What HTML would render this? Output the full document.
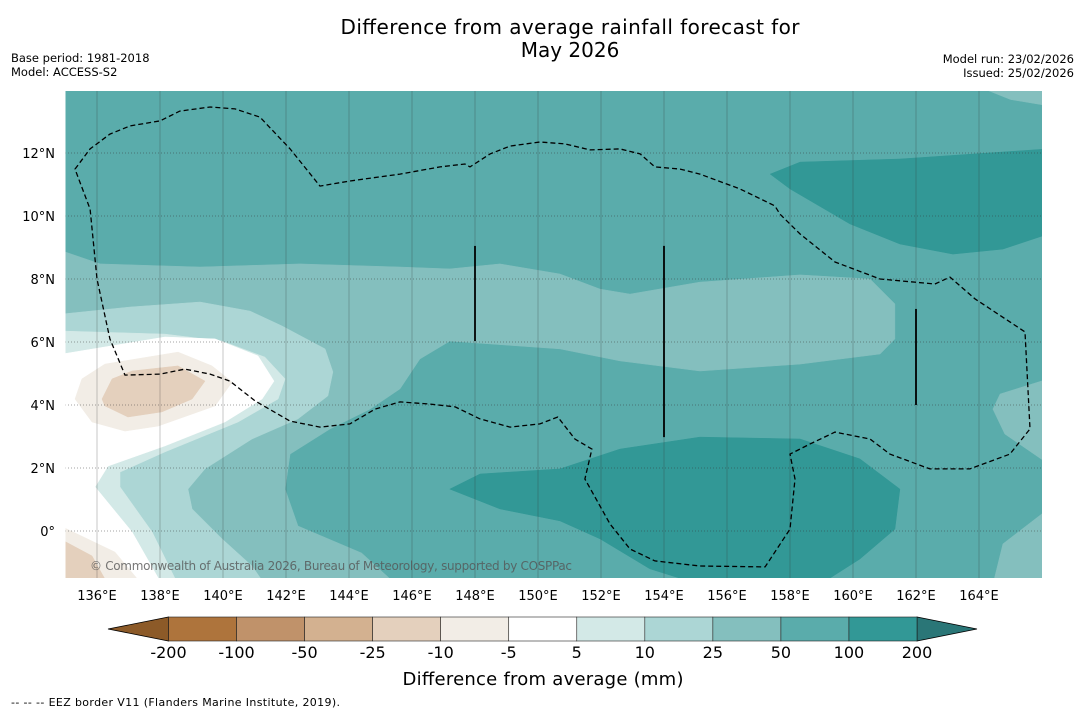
<!DOCTYPE html>
<html><head><meta charset="utf-8"><style>
body{margin:0;background:#fff;font-family:"Liberation Sans","DejaVu Sans",sans-serif;}
svg text{font-family:"DejaVu Sans","Liberation Sans",sans-serif;}
</style></head><body>
<svg id="c" width="1085" height="713" xmlns="http://www.w3.org/2000/svg">
<defs><clipPath id="mc"><rect x="65.5" y="91" width="976.5" height="487"/></clipPath></defs>
<text x="570" y="34" text-anchor="middle" font-size="20" textLength="459">Difference from average rainfall forecast for</text>
<text x="570" y="57" text-anchor="middle" font-size="20">May 2026</text>
<text x="11" y="62" font-size="11.5">Base period: 1981-2018</text>
<text x="11" y="76" font-size="11.5">Model: ACCESS-S2</text>
<text x="1074" y="63" font-size="11.5" text-anchor="end">Model run: 23/02/2026</text>
<text x="1074" y="77" font-size="11.5" text-anchor="end">Issued: 25/02/2026</text>
<g id="map" clip-path="url(#mc)"></g>
<g id="axes"></g>
<g id="cbar"></g>
<text x="543" y="685" text-anchor="middle" font-size="18" textLength="281">Difference from average (mm)</text>
<text x="11" y="706" font-size="11" textLength="329">--  --  -- EEZ border V11 (Flanders Marine Institute, 2019).</text>
</svg>
<script>
const lonTicks=[136,138,140,142,144,146,148,150,152,154,156,158,160,162,164];
const latTicks=[0,2,4,6,8,10,12];
const cbLevels=["-200","-100","-50","-25","-10","-5","5","10","25","50","100","200"];
const cbColors=["#ae743c","#c0926a","#d3b190","#e4d0bd","#f2ede6","#ffffff","#d3e9e7","#acd6d5","#84bfbe","#5aacab","#329896"];
const bandMid=[[134.9,8.89],[136.1,8.48],[139.27,8.38],[142.44,8.48],[145.62,8.38],[147.2,8.32],[148.79,8.48],[150.7,8.16],[151.97,7.68],[152.92,7.52],[155.14,7.9],[158.32,8.13],[160.54,8.0],[161.33,7.21],[161.33,6.1],[160.86,5.62],[158.32,5.3],[155.14,5.08],[152.6,5.4],[150.7,5.78],[147.2,6.03],[146.25,5.46],[145.62,4.51],[144.67,3.87],[143.4,3.24],[142.13,2.44],[141.97,1.33],[142.38,0.16],[144.4,-0.7],[145.5,-1.7],[134.9,-1.7]];
const darkTop=[[157.37,11.33],[158.32,11.71],[161.49,11.81],[166.2,12.13],[166.2,9.43],[164.76,8.95],[163.17,8.79],[161.49,9.11],[159.9,9.75],[158.0,10.86]];
const darkBottom=[[147.2,1.33],[148.16,1.81],[150.7,1.97],[152.6,2.6],[155.14,2.98],[158.32,2.92],[160.22,2.29],[161.49,1.33],[161.33,0.06],[160.22,-0.89],[158.95,-1.7],[155.14,-1.7],[153.55,-1.2],[151.97,-0.25],[150.7,0.32],[148.79,0.7]];
const rightMid=[[166.2,4.83],[164.67,4.35],[164.44,3.87],[164.82,3.08],[166.2,2.13]];
const rightBottom=[[166.2,0.7],[164.76,-0.41],[164.44,-1.7],[166.2,-1.7]];
const rightTop=[[164.0,14.1],[165.0,13.7],[166.2,13.5],[166.2,14.1]];
const band10=[[134.9,6.89],[137.05,7.11],[139.27,7.27],[140.86,6.98],[141.87,6.51],[143.24,5.78],[143.49,5.05],[143.33,4.29],[142.38,3.56],[140.92,2.92],[139.43,1.97],[138.89,1.33],[139.02,0.7],[139.97,-0.25],[140.92,-1.11],[141.33,-1.7],[134.9,-1.7]];
const band5=[[134.9,6.35],[138.16,6.25],[139.97,6.03],[141.33,5.52],[141.97,4.83],[141.75,4.19],[140.48,3.46],[138.16,2.51],[136.73,1.87],[136.73,1.4],[137.75,-0.03],[138.57,-1.7],[134.9,-1.7]];
const whiteA=[[134.9,5.62],[138.16,6.16],[139.75,6.1],[141.11,5.56],[141.62,4.76],[141.24,4.19],[140.06,3.46],[138.16,2.7],[136.35,2.06],[135.94,1.4],[137.11,-0.03],[138.06,-1.7],[134.9,-1.7]];
const dry10A=[[135.3,4.19],[135.52,4.83],[136.25,5.3],[138.57,5.68],[139.65,5.24],[140.29,4.73],[139.75,3.97],[137.94,3.33],[136.89,3.17],[135.84,3.46]];
const dry10B=[[134.9,0.13],[136.57,-0.67],[137.43,-1.7],[134.9,-1.7]];
const dry25A=[[136.16,4.19],[136.48,4.83],[137.11,5.08],[138.57,5.24],[139.43,4.76],[139.02,4.19],[138.06,3.78],[136.98,3.62],[136.25,3.97]];
const dry25B=[[134.9,-0.29],[135.84,-0.79],[136.35,-1.7],[134.9,-1.7]];
const eez=[[135.3,11.49],[135.78,12.13],[136.41,12.6],[137.05,12.86],[138.0,13.02],[138.63,13.33],[139.59,13.46],[140.38,13.4],[141.17,13.14],[142.13,12.13],[143.08,10.95],[144.03,11.11],[145.62,11.33],[146.89,11.56],[147.68,11.65],[147.84,11.56],[148.48,11.97],[149.11,12.22],[150.06,12.35],[150.86,12.29],[151.65,12.1],[152.6,12.13],[153.24,11.97],[153.71,11.56],[154.51,11.49],[155.14,11.33],[156.41,10.86],[157.52,10.32],[157.68,10.06],[158.32,9.43],[159.43,8.54],[160.86,8.0],[162.6,7.84],[163.08,8.06],[163.87,7.37],[165.46,6.32],[165.62,3.24],[164.98,2.44],[163.71,1.97],[162.44,1.97],[161.17,2.44],[160.54,2.92],[159.43,3.14],[158.63,2.76],[158.0,2.44],[158.16,1.65],[158.0,0.06],[157.21,-1.14],[155.14,-1.11],[153.71,-0.95],[152.92,-0.57],[152.29,0.22],[151.49,1.65],[151.71,2.6],[151.17,2.92],[150.63,3.62],[150.06,3.4],[149.11,3.3],[148.16,3.56],[147.37,3.94],[146.57,4.03],[145.62,4.1],[144.83,3.87],[144.03,3.4],[143.08,3.3],[142.13,3.49],[141.02,4.13],[140.22,4.76],[139.59,4.98],[138.79,5.14],[138.0,4.98],[136.89,4.95],[136.41,6.1],[136.0,8.0],[135.78,10.22]];
const segLines=[[148,9.05,6.03],[154,9.05,2.98],[162,7.05,4.0]];

const NS="http://www.w3.org/2000/svg";
const X=lon=>65.5+(lon-135)*31.5;
const Y=lat=>531-lat*31.5;
function mk(tag,attrs,parent){const e=document.createElementNS(NS,tag);for(const k in attrs)e.setAttribute(k,attrs[k]);parent.appendChild(e);return e;}
const map=document.getElementById('map');
const pts=a=>a.map(p=>X(p[0]).toFixed(1)+','+Y(p[1]).toFixed(1)).join(' ');
const bg=mk('rect',{x:60,y:85,width:990,height:500,fill:'#5aacab'},map);


const layers=[[bandMid,'#84bfbe','contour-25-50'],[rightTop,'#84bfbe','contour-25-50-ne'],[rightMid,'#84bfbe','contour-25-50-east'],[rightBottom,'#84bfbe','contour-25-50-se'],[darkTop,'#329896','contour-100-200-north'],[darkBottom,'#329896','contour-100-200-south'],[band10,'#acd6d5','contour-10-25'],[band5,'#d3e9e7','contour-5-10'],[whiteA,'#ffffff','contour-neutral'],[dry10A,'#f2ede6','contour-dry-5-10'],[dry10B,'#f2ede6','contour-dry-5-10-sw'],[dry25A,'#e4d0bd','contour-dry-10-25'],[dry25B,'#e4d0bd','contour-dry-10-25-sw']];
layers.forEach(l=>{const p=mk('polygon',{points:pts(l[0]),fill:l[1],stroke:l[1],'stroke-width':0.5},map);

});
lonTicks.forEach(t=>{const g=mk('line',{x1:X(t),x2:X(t),y1:91,y2:578,stroke:'#333','stroke-width':0.5,'stroke-opacity':0.55},map);

});
latTicks.forEach(t=>{const g=mk('line',{x1:65,x2:1042,y1:Y(t),y2:Y(t),stroke:'#333','stroke-width':0.7,'stroke-dasharray':'1,2','stroke-opacity':0.6},map);

});
const ez=mk('polygon',{points:pts(eez),fill:'none',stroke:'#000','stroke-width':1.3,'stroke-dasharray':'5,3'},map);


segLines.forEach(s=>{const l=mk('line',{x1:X(s[0]),x2:X(s[0]),y1:Y(s[1]),y2:Y(s[2]),stroke:'#000','stroke-width':1.8},map);

});
const cp=mk('text',{x:90,y:570,'font-size':12,fill:'#555','fill-opacity':0.8,textLength:482},map);cp.textContent='© Commonwealth of Australia 2026, Bureau of Meteorology, supported by COSPPac';


const axes=document.getElementById('axes');
lonTicks.forEach(t=>{const e=mk('text',{x:X(t),y:600,'font-size':13,'text-anchor':'middle'},axes);e.textContent=t+'°E';

});
latTicks.forEach(t=>{const e=mk('text',{x:55,y:Y(t)+5,'font-size':13,'text-anchor':'end'},axes);e.textContent=t===0?'0°':t+'°N';

});
const cb=document.getElementById('cbar');
const x0=168.5,bw=(917-168.5)/cbColors.length,cy=617,ch=24;
const lt=mk('polygon',{points:`108,${cy+ch/2} ${x0},${cy} ${x0},${cy+ch}`,fill:'#8c5a28',stroke:'#000','stroke-width':0.8},cb);


const rt=mk('polygon',{points:`977,${cy+ch/2} 917,${cy} 917,${cy+ch}`,fill:'#2a7677',stroke:'#000','stroke-width':0.8},cb);


cbColors.forEach((c,i)=>{const r=mk('rect',{x:x0+i*bw,y:cy,width:bw,height:ch,fill:c,stroke:'#222','stroke-width':0.6},cb);

});
cbLevels.forEach((v,i)=>{const e=mk('text',{x:x0+i*bw,y:658,'font-size':16,'text-anchor':'middle'},cb);e.textContent=v;

});
</script>
</body></html>
